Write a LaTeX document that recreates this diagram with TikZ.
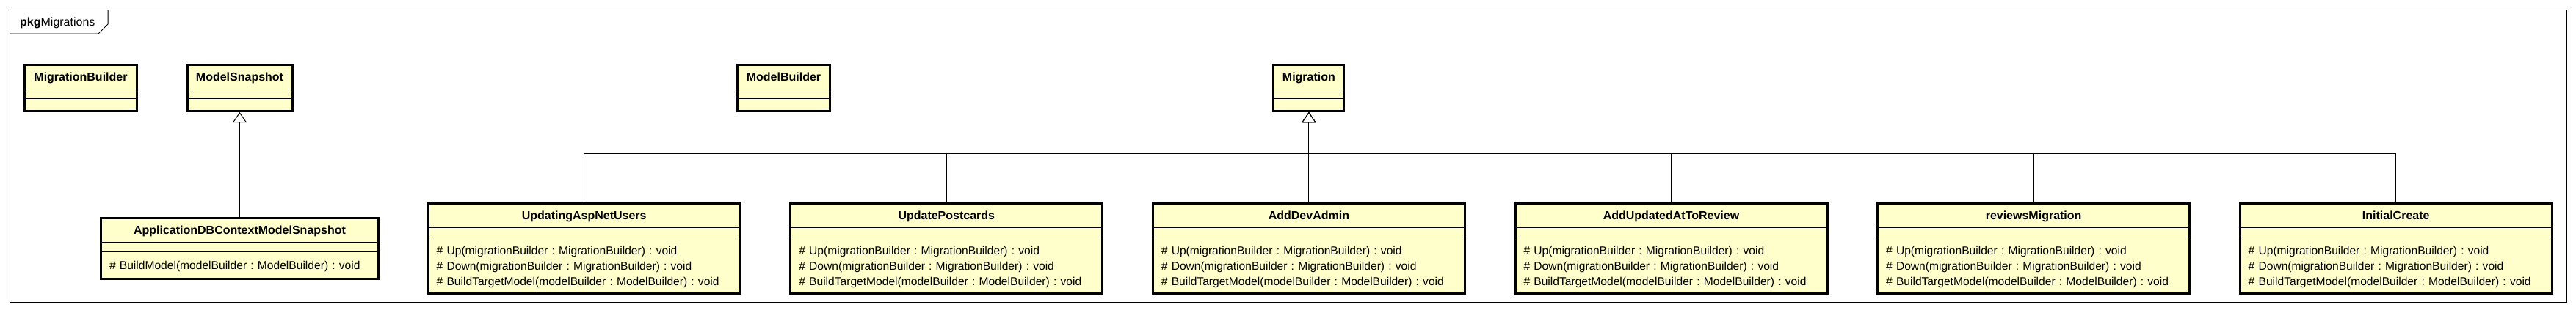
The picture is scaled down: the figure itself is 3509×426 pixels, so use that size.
\documentclass[tikz,border=0pt]{standalone}
\usepackage{fontspec}
\setmainfont{Liberation Sans}
\usepackage{xcolor}
\usepackage{tikz}
\usetikzlibrary{shapes.multipart}
\usetikzlibrary{arrows.meta}

\frenchspacing
\definecolor{classfill}{RGB}{255,255,204}
\newcommand{\namefont}{\fontsize{16}{19}\selectfont\bfseries}
\newcommand{\opsfont}{\fontsize{15.6}{21}\selectfont\frenchspacing}
\newcommand{\namestrut}{\rule[-4pt]{0pt}{19.5pt}}
\newcommand{\firststrut}{\rule{0pt}{18pt}}
\newcommand{\laststrut}{\rule[-4.5pt]{0pt}{4.5pt}}
\newcommand{\classname}[1]{\hbox to\hsize{\hfil\namefont\namestrut #1\hfil}}

\tikzset{
  umlclass/.style={rectangle split, rectangle split parts=3, rectangle split draw splits=false,
    rectangle split empty part height=0pt, rectangle split empty part depth=0pt,
    draw, line width=3pt, outer sep=1.5pt, fill=classfill, text width=#1,
    inner xsep=11.5pt, inner ysep=5pt, align=left, font=\opsfont, anchor=north,
    append after command={(\tikzlastnode.text split west) edge[splitline] (\tikzlastnode.text split east)
      (\tikzlastnode.two split west) edge[splitline] (\tikzlastnode.two split east)}},
  splitline/.style={line width=1pt},
  generalize/.style={line width=1pt, -{Triangle[width=19pt, length=14pt, fill=white]}},
}

\begin{document}
\begin{tikzpicture}[x=1pt, y=-1pt]
        \useasboundingbox (0,0) rectangle (3509,426);
        % package frame
        \draw[line width=1pt] (13,13) rectangle (3496,412);
        \draw[line width=1pt] (13,46) -- (134,46) -- (147,33) -- (147,13);
        \node[anchor=west, inner sep=0pt, font=\fontsize{16}{19}\selectfont] (pkg) at (27,31) {\textbf{pkg}Migrations};
        % top row
        \node[umlclass=130pt] (mbuilder) at (110,87) {\classname{MigrationBuilder}\nodepart{second}\nodepart{third}\rule{0pt}{4.5pt}};
        \node[umlclass=120pt] (msnap) at (326.5,87) {\classname{ModelSnapshot}\nodepart{second}\nodepart{third}\rule{0pt}{4.5pt}};
        \node[umlclass=103pt] (mdlbuilder) at (1067.5,87) {\classname{ModelBuilder}\nodepart{second}\nodepart{third}\rule{0pt}{4.5pt}};
        \node[umlclass=73pt] (migration) at (1782.9,87) {\classname{Migration}\nodepart{second}\nodepart{third}\rule{0pt}{4.5pt}};
        % snapshot
        \node[umlclass=355pt] (appsnap) at (326.5,296) {\classname{ApplicationDBContextModelSnapshot}\nodepart{second}\nodepart{third}\firststrut\# BuildModel(modelBuilder : ModelBuilder) : void\rule[-6.5pt]{0pt}{6.5pt}};
        % migrations
        \node[umlclass=402pt] (updusers) at (795.7,276) {\classname{UpdatingAspNetUsers}\nodepart{second}\nodepart{third}\firststrut\# Up(migrationBuilder : MigrationBuilder) : void\\ \# Down(migrationBuilder : MigrationBuilder) : void\\ \# BuildTargetModel(modelBuilder : ModelBuilder) : void\laststrut};
        \node[umlclass=402pt] (updcards) at (1289.3,276) {\classname{UpdatePostcards}\nodepart{second}\nodepart{third}\firststrut\# Up(migrationBuilder : MigrationBuilder) : void\\ \# Down(migrationBuilder : MigrationBuilder) : void\\ \# BuildTargetModel(modelBuilder : ModelBuilder) : void\laststrut};
        \node[umlclass=402pt] (devadmin) at (1782.9,276) {\classname{AddDevAdmin}\nodepart{second}\nodepart{third}\firststrut\# Up(migrationBuilder : MigrationBuilder) : void\\ \# Down(migrationBuilder : MigrationBuilder) : void\\ \# BuildTargetModel(modelBuilder : ModelBuilder) : void\laststrut};
        \node[umlclass=402pt] (addupd) at (2276.5,276) {\classname{AddUpdatedAtToReview}\nodepart{second}\nodepart{third}\firststrut\# Up(migrationBuilder : MigrationBuilder) : void\\ \# Down(migrationBuilder : MigrationBuilder) : void\\ \# BuildTargetModel(modelBuilder : ModelBuilder) : void\laststrut};
        \node[umlclass=402pt] (reviews) at (2770.1,276) {\classname{reviewsMigration}\nodepart{second}\nodepart{third}\firststrut\# Up(migrationBuilder : MigrationBuilder) : void\\ \# Down(migrationBuilder : MigrationBuilder) : void\\ \# BuildTargetModel(modelBuilder : ModelBuilder) : void\laststrut};
        \node[umlclass=402pt] (initial) at (3263.7,276) {\classname{InitialCreate}\nodepart{second}\nodepart{third}\firststrut\# Up(migrationBuilder : MigrationBuilder) : void\\ \# Down(migrationBuilder : MigrationBuilder) : void\\ \# BuildTargetModel(modelBuilder : ModelBuilder) : void\laststrut};
        % generalizations
        \coordinate (bus) at (1782.9,209);
        \draw[generalize] (appsnap.north) -- (msnap.south);
        \draw[generalize] (updusers.north) |- (bus) -- (migration.south);
        \draw[generalize] (updcards.north) |- (bus) -- (migration.south);
        \draw[generalize] (devadmin.north) -- (migration.south);
        \draw[generalize] (addupd.north) |- (bus) -- (migration.south);
        \draw[generalize] (reviews.north) |- (bus) -- (migration.south);
        \draw[generalize] (initial.north) |- (bus) -- (migration.south);
    \end{tikzpicture}
\end{document}
